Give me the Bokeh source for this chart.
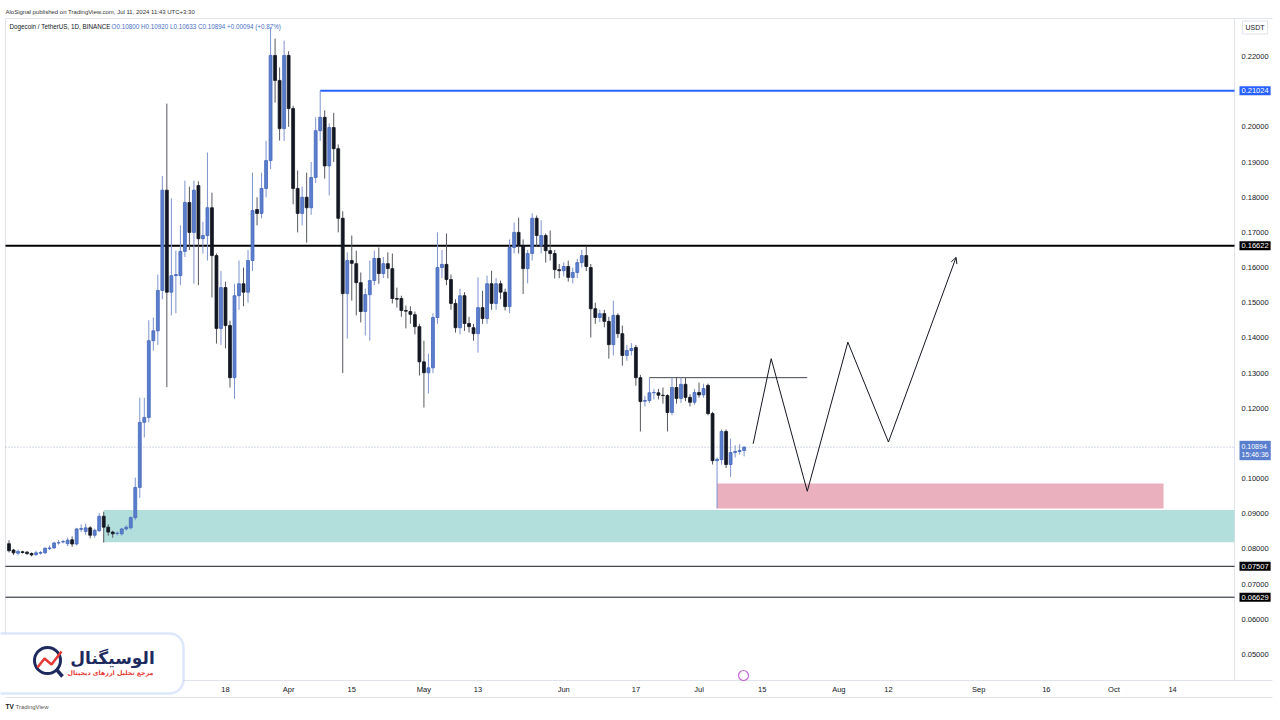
import numpy as np
import pandas as pd
from bokeh.plotting import figure
from bokeh.models import (Range1d, FixedTicker, BoxAnnotation, Label, Arrow,
                          OpenHead, ColumnDataSource, PrintfTickFormatter)
from bokeh.embed import file_html
from bokeh.resources import INLINE

# ---------------- data ----------------
start_date = "2024-01-30"
opens = [.0815,.0797,.0788,.0792,.0791,.0787,.0784,.0788,.0789,.0801,.0803,.0817,.0820,.0815,.0826,.0814,.0856,.0850,.0860,.0839,
         .0852,.0893,.0862,.0848,.0844,.0843,.0857,.0860,.0889,.0975,.1160,.1174,.1392,.1420,.1535,.1820,.1530,.1577,.1577,.1646,
         .1785,.1700,.1833,.1682,.1691,.1770,.1634,.1427,.1543,.1435,.1287,.1520,.1554,.1530,.1620,.1765,.1754,.1825,.1904,.2203,
         .2132,.1995,.2203,.2052,.1825,.1754,.1800,.1770,.1856,.1989,.2027,.1889,.1998,.1938,.1740,.1526,.1620,.1611,.1557,.1475,
         .1523,.1563,.1626,.1583,.1611,.1597,.1512,.1512,.1478,.1475,.1466,.1432,.1332,.1301,.1315,.1458,.1600,.1609,.1566,.1498,
         .1429,.1520,.1441,.1429,.1412,.1486,.1455,.1554,.1498,.1554,.1530,.1489,.1657,.1700,.1663,.1597,.1640,.1740,.1663,.1691,
         .1648,.1640,.1594,.1591,.1603,.1572,.1586,.1614,.1634,.1600,.1483,.1458,.1469,.1447,.1381,.1464,.1412,.1350,.1364,.1373,
         .1287,.1220,.1222,.1244,.1244,.1237,.1236,.1188,.1259,.1228,.1268,.1231,.1217,.1245,.1238,.1265,.1185,.1051,.1054,.1134,
         .1040,.1074,.1077,.1080]
highs = [.0825,.0800,.0798,.0795,.0794,.0790,.0795,.0794,.0805,.0810,.0820,.0826,.0826,.0832,.0836,.0860,.0870,.0872,.0865,.0858,
         .0902,.0906,.0870,.0852,.0850,.0860,.0868,.0893,.1003,.1230,.1230,.1450,.1458,.1580,.1860,.2066,.1797,.1648,.1720,.1847,
         .1830,.1847,.1845,.1730,.1927,.1813,.1640,.1590,.1560,.1449,.1554,.1620,.1600,.1650,.1870,.1800,.1870,.1960,.2283,.2251,
         .2169,.2245,.2215,.2060,.1876,.1830,.1870,.1900,.2027,.2102,.2047,.2010,.2040,.1950,.1760,.1643,.1691,.1648,.1586,.1540,
         .1620,.1648,.1657,.1630,.1643,.1640,.1543,.1520,.1492,.1490,.1475,.1440,.1392,.1355,.1470,.1700,.1650,.1697,.1580,.1510,
         .1540,.1530,.1460,.1440,.1572,.1534,.1577,.1591,.1570,.1563,.1540,.1680,.1728,.1742,.1680,.1650,.1754,.1748,.1734,.1697,
         .1705,.1650,.1610,.1615,.1620,.1600,.1625,.1650,.1660,.1610,.1500,.1480,.1480,.1460,.1506,.1470,.1435,.1380,.1385,.1380,
         .1295,.1235,.1287,.1255,.1255,.1259,.1240,.1287,.1287,.1287,.1287,.1240,.1255,.1273,.1270,.1270,.1190,.1060,.1140,.1140,
         .1114,.1095,.1098,.1092]
lows = [.0790,.0783,.0782,.0787,.0783,.0779,.0780,.0784,.0786,.0797,.0800,.0812,.0816,.0808,.0806,.0810,.0848,.0840,.0830,.0832,
        .0848,.0818,.0838,.0832,.0838,.0838,.0852,.0855,.0882,.0945,.1117,.1160,.1364,.1380,.1510,.1260,.1464,.1470,.1550,.1630,
        .1650,.1554,.1550,.1640,.1620,.1515,.1384,.1380,.1370,.1259,.1227,.1480,.1490,.1500,.1590,.1720,.1740,.1800,.1880,.2069,
        .1961,.1960,.2000,.1780,.1700,.1720,.1671,.1750,.1840,.1960,.1853,.1805,.1900,.1700,.1300,.1398,.1506,.1464,.1444,.1407,
        .1392,.1550,.1554,.1570,.1569,.1498,.1486,.1460,.1427,.1440,.1410,.1293,.1202,.1242,.1300,.1440,.1570,.1550,.1480,.1415,
        .1410,.1420,.1415,.1392,.1358,.1440,.1440,.1480,.1480,.1510,.1478,.1470,.1640,.1640,.1525,.1555,.1620,.1660,.1640,.1614,
        .1620,.1569,.1570,.1575,.1560,.1555,.1570,.1600,.1590,.1401,.1440,.1445,.1430,.1341,.1350,.1400,.1321,.1335,.1350,.1264,
        .1134,.1205,.1215,.1225,.1225,.1213,.1134,.1180,.1213,.1215,.1220,.1205,.1210,.1230,.1230,.1180,.1040,.0915,.1040,.1030,
        .1005,.1060,.1068,.10633]
closes = [.0795,.0789,.0793,.0790,.0787,.0783,.0789,.0790,.0802,.0803,.0817,.0818,.0821,.0825,.0814,.0857,.0858,.0860,.0839,.0853,
          .0893,.0862,.0848,.0843,.0845,.0857,.0862,.0889,.0975,.1160,.1174,.1392,.1420,.1535,.1820,.1530,.1577,.1580,.1646,.1785,
          .1700,.1820,.1682,.1691,.1770,.1634,.1427,.1543,.1435,.1287,.1520,.1554,.1530,.1620,.1762,.1754,.1825,.1904,.2203,.2132,
          .1995,.2203,.2052,.1825,.1754,.1800,.1770,.1856,.1989,.2027,.1889,.1998,.1938,.1740,.1526,.1620,.1612,.1557,.1475,.1523,
          .1563,.1626,.1583,.1611,.1597,.1512,.1510,.1478,.1476,.1467,.1432,.1332,.1301,.1315,.1458,.1600,.1609,.1566,.1498,.1429,
          .1520,.1441,.1432,.1412,.1486,.1455,.1554,.1498,.1554,.1530,.1489,.1657,.1700,.1663,.1597,.1640,.1740,.1691,.1691,.1648,
          .1640,.1594,.1591,.1603,.1572,.1586,.1614,.1634,.1603,.1483,.1458,.1469,.1447,.1381,.1464,.1412,.1350,.1364,.1370,.1287,
          .1219,.1222,.1244,.1245,.1237,.1236,.1188,.1259,.1228,.1268,.1231,.1217,.1245,.1238,.1256,.1185,.1051,.1055,.1134,.1040,
          .1074,.1077,.1080,.10894]

tick_dates = ["2024-03-18", "2024-04-01", "2024-04-15", "2024-05-01", "2024-05-13", "2024-06-01", "2024-06-17",
              "2024-07-01", "2024-07-15", "2024-08-01", "2024-08-12", "2024-09-01", "2024-09-16", "2024-10-01",
              "2024-10-14"]
tick_labels = ["18", "Apr", "15", "May", "13", "Jun", "17", "Jul", "15", "Aug", "12", "Sep", "16", "Oct", "14"]
price_ticks = [0.05, 0.06, 0.07, 0.08, 0.09, 0.10, 0.11, 0.12, 0.13, 0.14, 0.15, 0.16, 0.17, 0.18, 0.19, 0.20, 0.21, 0.22]

level_blue = 0.21024
level_black = 0.16622
level_low1 = 0.07507
level_low2 = 0.06629
last_price = 0.10894
range_line = (["2024-06-20", "2024-07-25"], 0.1287)
blue_line_start = "2024-04-08"
green_zone = ("2024-02-20", 0.0819, 0.0911)
pink_zone = ("2024-07-05", "2024-10-12", 0.0915, 0.0986)
zig_dates = ["2024-07-13", "2024-07-17", "2024-07-25", "2024-08-03", "2024-08-12", "2024-08-27"]
zig_prices = [0.1099, 0.1341, 0.0964, 0.1388, 0.1104, 0.1629]

# ---------------- helpers ----------------
origin = pd.Timestamp(start_date)
def day(d):
    return (pd.Timestamp(d) - origin).days

FONT = "Liberation Sans"
# chart pane (inside the canvas) and canvas-sized frame
C_LEFT, C_TOP, C_RIGHT, C_BOTTOM = 5, 18, 1234, 680
F_W, F_H = 1272, 712

# canvas-pixel layout helpers (for decorations only)
PX0, PXD = 8.5, 4.51           # canvas x of first candle, px per day
PY0, PYS = 56.0, 3517.6        # canvas y of 0.22, px per price unit
def px_x(px):
    return (px - PX0) / PXD
def px_y(py):
    return 0.22 - (py - PY0) / PYS

n = len(opens)
xs = np.arange(n)
o = np.array(opens); h = np.array(highs); l = np.array(lows); c = np.array(closes)
inc = c >= o
BLUE = "#5b7fcf"
BLUE_EDGE = "#4466b8"
DARK = "#131722"
NAVY = "#1e2a5e"
RED = "#e53935"
GRID = "#e0e3eb"

src = ColumnDataSource(dict(
    x=xs, top=np.maximum(o, c), bottom=np.minimum(o, c), high=h, low=l,
    fill=[BLUE if k else DARK for k in inc],
    edge=[BLUE_EDGE if k else DARK for k in inc],
    wick=["#7d94cf" if k else "#55585f" for k in inc],
))

p = figure(frame_width=F_W, frame_height=F_H,
           x_range=Range1d(px_x(0), px_x(F_W)), y_range=Range1d(px_y(F_H), px_y(0)),
           y_axis_location="right", output_backend="svg", toolbar_location=None,
           min_border_left=0, min_border_top=0, min_border_right=1280 - F_W,
           min_border_bottom=720 - F_H,
           background_fill_color="white", border_fill_color="white")
p.title.visible = False
p.grid.visible = False
p.outline_line_color = None

# axes (labels pulled back into the price/time scale strips)
p.yaxis.ticker = FixedTicker(ticks=price_ticks)
p.yaxis.formatter = PrintfTickFormatter(format="%.5f")
p.yaxis.major_tick_out = 0
p.yaxis.major_tick_in = 0
p.yaxis.minor_tick_out = 0
p.yaxis.minor_tick_in = 0
p.yaxis.major_label_standoff = 1241 - F_W
p.yaxis.axis_line_color = None
p.yaxis.major_label_text_font = FONT
p.yaxis.major_label_text_font_size = "7.5px"
p.yaxis.major_label_text_color = DARK

xticks = [day(d) for d in tick_dates]
p.xaxis.ticker = FixedTicker(ticks=xticks)
p.xaxis.major_label_overrides = {t: lab for t, lab in zip(xticks, tick_labels)}
p.xaxis.major_tick_out = 0
p.xaxis.major_tick_in = 0
p.xaxis.minor_tick_out = 0
p.xaxis.minor_tick_in = 0
p.xaxis.major_label_standoff = 684 - F_H
p.xaxis.axis_line_color = None
p.xaxis.major_label_text_font = FONT
p.xaxis.major_label_text_font_size = "7.5px"
p.xaxis.major_label_text_color = DARK

XL, XR = px_x(C_LEFT), px_x(C_RIGHT)

# pane borders
p.segment(x0=[px_x(C_LEFT), px_x(C_LEFT), px_x(C_LEFT), px_x(C_RIGHT), px_x(C_LEFT), px_x(1275)],
          y0=[px_y(C_TOP), px_y(C_BOTTOM), px_y(697), px_y(C_TOP), px_y(C_TOP), px_y(C_TOP)],
          x1=[px_x(1275), px_x(1275), px_x(1275), px_x(C_RIGHT), px_x(C_LEFT), px_x(1275)],
          y1=[px_y(C_TOP), px_y(C_BOTTOM), px_y(697), px_y(C_BOTTOM), px_y(C_BOTTOM), px_y(697)],
          line_color=GRID, line_width=1)

# zones
gz_start, gz_bot, gz_top = green_zone
p.quad(left=[day(gz_start)], right=[XR], bottom=[gz_bot], top=[gz_top],
       fill_color="#b2dfdb", line_color=None)
pz_start, pz_end, pz_bot, pz_top = pink_zone
p.quad(left=[day(pz_start)], right=[day(pz_end)], bottom=[pz_bot], top=[pz_top],
       fill_color="#ebb0bd", line_color=None)

# level lines
p.segment(x0=[XL], y0=[last_price], x1=[XR], y1=[last_price], line_color="#a8b3cc",
          line_width=1, line_dash="1 2")
p.segment(x0=[XL], y0=[level_black], x1=[XR], y1=[level_black], line_color="#000000", line_width=2)
p.segment(x0=[XL, XL], y0=[level_low1, level_low2], x1=[XR, XR], y1=[level_low1, level_low2],
          line_color=DARK, line_width=1)
p.segment(x0=[day(blue_line_start)], y0=[level_blue], x1=[XR], y1=[level_blue],
          line_color="#2962ff", line_width=2)
rl_dates, rl_price = range_line
p.segment(x0=[day(rl_dates[0])], y0=[rl_price], x1=[day(rl_dates[1])], y1=[rl_price],
          line_color="#434651", line_width=1)

# candles
p.segment(x0="x", y0="high", x1="x", y1="low", line_color="wick", line_width=1, source=src)
p.vbar(x="x", width=0.64, top="top", bottom="bottom", fill_color="fill", line_color="edge",
       line_width=0.8, source=src)

# projection zigzag
zx = [day(d) for d in zig_dates]
p.line(zx[:-1], zig_prices[:-1], line_color=DARK, line_width=1)
p.add_layout(Arrow(end=OpenHead(size=6, line_width=1, line_color=DARK), x_start=zx[-2],
                   y_start=zig_prices[-2], x_end=zx[-1], y_end=zig_prices[-1],
                   line_color=DARK, line_width=1))

# ---- texts ----
def label(px, py, text, **kw):
    p.add_layout(Label(x=px_x(px), y=px_y(py), text=text, **kw))

def axis_tag(price, text, bg, fg="white"):
    p.add_layout(Label(x=px_x(1239), y=price, text=text, text_color=fg, text_font=FONT,
                       text_font_size="7.5px", text_baseline="middle", text_align="left",
                       background_fill_color=bg, padding=2))

axis_tag(level_blue, "0.21024", "#2962ff")
axis_tag(level_black, "0.16622", "#000000")
axis_tag(level_low1, "0.07507", "#000000")
axis_tag(level_low2, "0.06629", "#000000")
label(1239, 450, "0.10894\n15:46:36", text_color="white", text_font=FONT,
      text_font_size="7px", text_baseline="middle", text_align="left",
      background_fill_color=BLUE, padding=2)
label(1242, 27, "USDT", text_color=DARK, text_font=FONT, text_font_size="7px",
      text_baseline="middle", text_align="left", background_fill_color="white",
      border_line_color=GRID, padding=3)

# header
label(5, 11, "AloSignal published on TradingView.com, Jul 11, 2024 11:43 UTC+3:30",
      text_color="#333333", text_font=FONT, text_font_size="6px",
      text_baseline="middle", text_align="left")
label(9, 26, "Dogecoin / TetherUS, 1D, BINANCE", text_color=DARK, text_font=FONT,
      text_font_size="6.3px", text_baseline="middle", text_align="left")
label(111, 26, "O0.10800  H0.10920  L0.10633  C0.10894  +0.00094 (+0.87%)",
      text_color="#4a6fc4", text_font=FONT, text_font_size="6.3px",
      text_baseline="middle", text_align="left")

# footer
label(5, 706, "TV", text_color=DARK, text_font=FONT, text_font_size="6.5px",
      text_font_style="bold", text_baseline="middle", text_align="left")
label(15, 706, "TradingView", text_color="#555555", text_font=FONT, text_font_size="6px",
      text_baseline="middle", text_align="left")

# logo
p.add_layout(BoxAnnotation(left=px_x(-20), right=px_x(183), top=px_y(633), bottom=px_y(693),
                           fill_color="white", fill_alpha=1, line_color="#8fb1f3", line_width=2.5,
                           border_radius=14, level="annotation"))
p.scatter(x=[px_x(47)], y=[px_y(660)], size=26, marker="circle", fill_color="white",
          line_color=NAVY, line_width=3, level="overlay")
p.line(x=[px_x(56), px_x(62)], y=[px_y(669), px_y(676)], line_color=NAVY, line_width=3.5,
       level="overlay")
p.line(x=[px_x(37), px_x(44), px_x(51), px_x(61)], y=[px_y(667), px_y(658), px_y(664), px_y(651)],
       line_color=RED, line_width=2.5, level="overlay")
label(112, 657, "الوسیگنال", text_color=NAVY, text_font="DejaVu Sans", text_font_size="17px",
      text_font_style="bold", text_baseline="middle", text_align="center", level="overlay")
label(110, 672, "مرجع تحلیل ارزهای دیجیتال", text_color=RED, text_font="DejaVu Sans",
      text_font_size="6.3px", text_font_style="bold", text_baseline="middle",
      text_align="center", level="overlay")

# small event marker near the time axis
p.scatter(x=[px_x(743)], y=[px_y(675)], size=10, marker="circle", fill_color="white",
          line_color="#c46ad8", line_width=1.2)

open("out.html", "w").write(file_html(p, INLINE))
